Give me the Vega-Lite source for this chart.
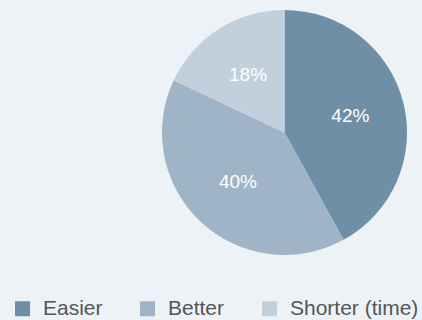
{
  "$schema": "https://vega.github.io/schema/vega-lite/v6.json",
  "width": 245,
  "height": 245,
  "autosize": {"type": "none"},
  "padding": {"left": 162, "top": 10, "right": 15, "bottom": 65},
  "background": "#edf2f7",
  "config": {"view": {"stroke": null}},
  "data": {
    "values": [
      {"answer": "Easier", "share": 42, "label": "42%", "rank": 1},
      {"answer": "Better", "share": 40, "label": "40%", "rank": 2},
      {"answer": "Shorter (time)", "share": 18, "label": "18%", "rank": 3}
    ]
  },
  "encoding": {
    "theta": {"field": "share", "type": "quantitative", "stack": true},
    "order": {"field": "rank", "type": "quantitative"}
  },
  "layer": [
    {
      "mark": {"type": "arc", "outerRadius": 122.5},
      "encoding": {
        "color": {
          "field": "answer",
          "type": "nominal",
          "scale": {
            "domain": ["Easier", "Better", "Shorter (time)"],
            "range": ["#6f8fa6", "#a0b4c8", "#c2d0dd"]
          },
          "legend": {
            "title": null,
            "orient": "none",
            "direction": "horizontal",
            "legendX": -150,
            "legendY": 288,
            "symbolType": "square",
            "symbolSize": 225,
            "symbolStrokeWidth": 0,
            "symbolOpacity": 1,
            "labelFont": "Liberation Sans",
            "labelFontSize": 21,
            "labelColor": "#555555",
            "labelOffset": 10,
            "columnPadding": 34
          }
        }
      }
    },
    {
      "mark": {"type": "text", "radius": 68, "fontSize": 19, "font": "Liberation Sans", "fill": "#ffffff"},
      "encoding": {
        "text": {"field": "label"}
      }
    }
  ]
}
